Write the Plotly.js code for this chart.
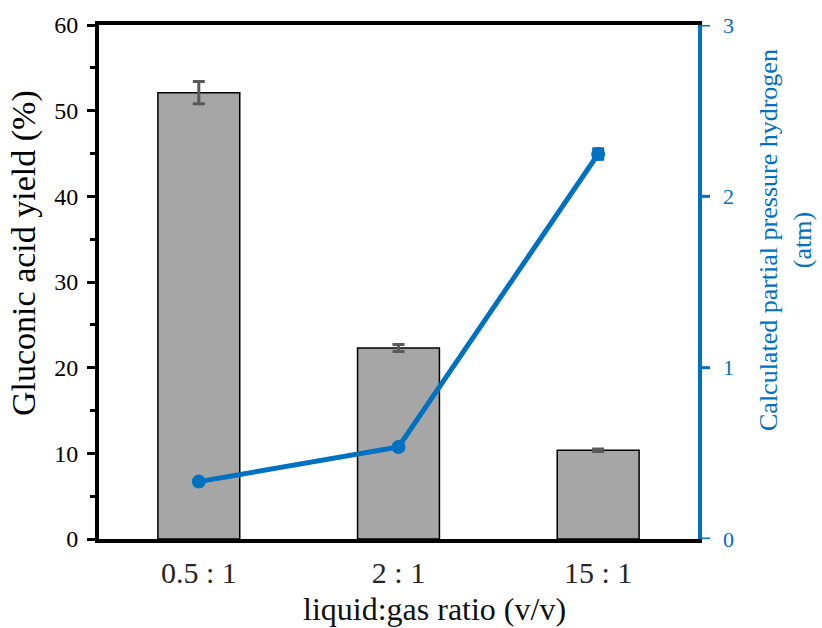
<!DOCTYPE html>
<html>
<head>
<meta charset="utf-8">
<script src="https://cdn.plot.ly/plotly-3.0.1.min.js"></script>
<style>html,body{margin:0;padding:0;background:#fff;}#chart{width:822px;height:628px;}</style>
</head>
<body>
<div id="chart"></div>
<script>
const categories = ["0.5 : 1", "2 : 1", "15 : 1"];
const yieldValues = [52.1, 22.3, 10.35];
const yieldErrors = [1.3, 0.4, 0.15];
const pressureValues = [0.335, 0.537, 2.247];
const pressureErrors = [0, 0, 0.03];
const leftTicks = [0, 10, 20, 30, 40, 50, 60];
const rightTicks = [0, 1, 2, 3];
const xTitle = 'liquid:gas ratio (v/v)';
const leftTitle = 'Gluconic acid yield (%)';
const rightTitle = 'Calculated partial pressure hydrogen<br>(atm)';

const serif = 'Liberation Serif, Times New Roman, serif';
const blue = '#0070C0';

const traces = [
  {
    type: 'bar',
    x: categories,
    y: yieldValues,
    yaxis: 'y',
    marker: {color: '#A6A6A6', line: {color: '#000', width: 1.5}},
    error_y: {type: 'data', array: yieldErrors, visible: true, color: '#595959', thickness: 3, width: 6},
    hoverinfo: 'skip'
  },
  {
    type: 'scatter',
    mode: 'lines+markers',
    x: categories,
    y: pressureValues,
    yaxis: 'y2',
    line: {color: blue, width: 5},
    marker: {color: blue, size: 14},
    error_y: {type: 'data', array: pressureErrors, visible: true, color: blue, thickness: 3, width: 6},
    hoverinfo: 'skip'
  }
];

const W = 822, H = 628;
const PL = 99, PW = 599;           // plot area left / width in px
const px = v => (v - PL) / PW;      // px -> paper x

// right-axis tick marks and labels placed on the y2 scale
const rightTickShapes = rightTicks.map(v => ({
  type: 'line', xref: 'paper', yref: 'y2',
  x0: px(700), x1: px(710), y0: v, y1: v,
  line: {color: blue, width: 3}
}));
const rightTickLabels = rightTicks.map(v => ({
  text: String(v), xref: 'paper', yref: 'y2', x: px(721), y: v,
  xanchor: 'left', yanchor: 'middle', showarrow: false,
  font: {family: serif, size: 22, color: blue}
}));

const layout = {
  width: W, height: H,
  margin: {l: 99, r: 124, t: 25, b: 89},
  paper_bgcolor: '#fff', plot_bgcolor: '#fff',
  showlegend: false,
  bargap: 0.59,
  font: {family: serif, color: '#000'},
  xaxis: {
    type: 'category',
    showline: true, mirror: true, linecolor: '#000', linewidth: 4,
    ticks: '', showgrid: false, zeroline: false,
    tickfont: {family: serif, size: 30, color: '#262626'},
    ticklabelstandoff: 4
  },
  yaxis: {
    range: [0, 60],
    tickvals: leftTicks,
    showline: true, linecolor: '#000', linewidth: 4,
    ticks: 'outside', ticklen: 8, tickwidth: 3, tickcolor: '#000',
    minor: {dtick: 5, ticks: 'outside', ticklen: 5, tickwidth: 3, tickcolor: '#000', showgrid: false},
    showgrid: false, zeroline: false,
    tickfont: {family: serif, size: 24, color: '#000'},
    ticklabelstandoff: 4
  },
  yaxis2: {
    range: [0, 3],
    tickvals: rightTicks,
    overlaying: 'y', side: 'right',
    showline: true, linecolor: blue, linewidth: 4,
    ticks: '', showticklabels: false,
    showgrid: false, zeroline: false
  },
  shapes: rightTickShapes,
  annotations: rightTickLabels.concat([
    {text: xTitle, xref: 'paper', yref: 'paper', x: px(434), y: (539 - 609) / 514,
     xanchor: 'center', yanchor: 'middle', showarrow: false,
     font: {family: serif, size: 32, color: '#111'}},
    {text: leftTitle, xref: 'paper', yref: 'paper', x: px(24), y: (539 - 253) / 514,
     xanchor: 'center', yanchor: 'middle', textangle: -90, showarrow: false,
     font: {family: serif, size: 34, color: '#000'}},
    {text: rightTitle, xref: 'paper', yref: 'paper', x: px(786), y: (539 - 240) / 514,
     xanchor: 'center', yanchor: 'middle', textangle: -90, showarrow: false,
     font: {family: serif, size: 26, color: blue}}
  ])
};

Plotly.newPlot('chart', traces, layout, {displayModeBar: false, staticPlot: true});
</script>
</body>
</html>
